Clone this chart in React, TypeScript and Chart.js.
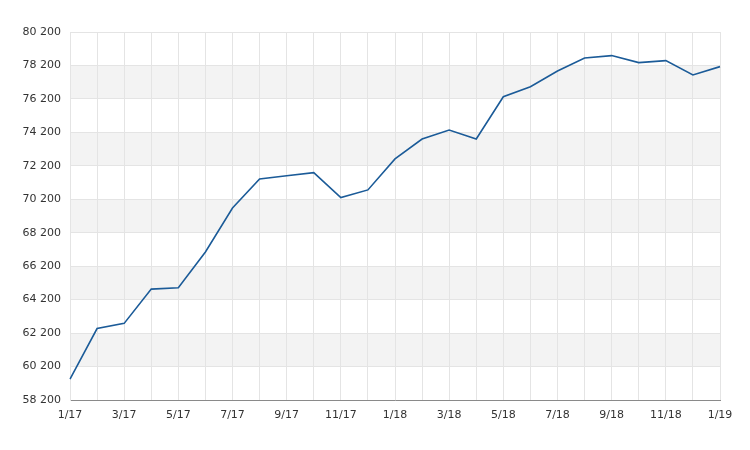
import React, { useEffect, useRef } from "react";
import { Chart, registerables } from "chart.js";

Chart.register(...registerables);

const months: string[] = [
  "1/17", "2/17", "3/17", "4/17", "5/17", "6/17", "7/17", "8/17", "9/17", "10/17", "11/17", "12/17",
  "1/18", "2/18", "3/18", "4/18", "5/18", "6/18", "7/18", "8/18", "9/18", "10/18", "11/18", "12/18",
  "1/19",
];

const values: number[] = [
  59450, 62470, 62780, 64830, 64910, 67050, 69680, 71410, 71610, 71790, 70300, 70760,
  72610, 73800, 74340, 73800, 76330, 76930, 77870, 78650, 78790, 78370, 78490, 77630,
  78130,
];

const yMin = 58200;
const yMax = 80200;
const yStep = 2000;

const fmt = (v: number) => {
  const k = Math.floor(v / 1000);
  const r = String(Math.round(v % 1000)).padStart(3, "0");
  return `${k} ${r}`;
};

const bandsPlugin = {
  id: "bands",
  beforeDraw(chart: any) {
    const { ctx, chartArea, scales } = chart;
    const y = scales.y;
    ctx.save();
    ctx.fillStyle = "#f3f3f3";
    let i = 0;
    for (let v = yMin; v < yMax; v += yStep, i++) {
      if (i % 2 === 1) {
        const top = y.getPixelForValue(v + yStep);
        const bot = y.getPixelForValue(v);
        ctx.fillRect(chartArea.left, top, chartArea.right - chartArea.left, bot - top);
      }
    }
    ctx.restore();
  },
};

export default function App() {
  const ref = useRef<HTMLCanvasElement>(null);
  useEffect(() => {
    if (!ref.current) return;
    const chart = new Chart(ref.current, {
      type: "line",
      data: {
        labels: months,
        datasets: [
          {
            data: values,
            borderColor: "#1b5b98",
            borderWidth: 1.6,
            pointRadius: 0,
            tension: 0,
            fill: false,
          },
        ],
      },
      options: {
        animation: false,
        responsive: false,
        maintainAspectRatio: false,
        layout: { padding: { top: 32, right: 30, left: 0, bottom: 0 } },
        plugins: { legend: { display: false }, tooltip: { enabled: false } },
        scales: {
          x: {
            type: "category",
            offset: false,
            grid: { color: "#e4e4e4", drawTicks: false },
            border: { color: "#8a8a8a", width: 1 },
            ticks: {
              autoSkip: false,
              maxRotation: 0,
              padding: 9,
              color: "#333",
              font: { family: "DejaVu Sans", size: 11 },
              callback: (_v: any, i: number) => (i % 2 === 0 ? months[i] : ""),
            },
            afterFit: (s: any) => {
              s.height = 50;
            },
          },
          y: {
            min: yMin,
            max: yMax,
            grid: { color: "#e4e4e4", drawTicks: false },
            border: { color: "#e4e4e4" },
            ticks: {
              stepSize: yStep,
              padding: 9,
              color: "#333",
              font: { family: "DejaVu Sans", size: 11 },
              callback: (v: any) => fmt(Number(v)),
            },
            afterFit: (s: any) => {
              s.width = 70;
            },
          },
        },
      },
      plugins: [bandsPlugin],
    });
    return () => chart.destroy();
  }, []);
  return (
    <div style={{ position: "absolute", left: 0, top: 0, width: 750, height: 450, background: "#fff" }}>
      <canvas ref={ref} width={750} height={450} />
    </div>
  );
}
